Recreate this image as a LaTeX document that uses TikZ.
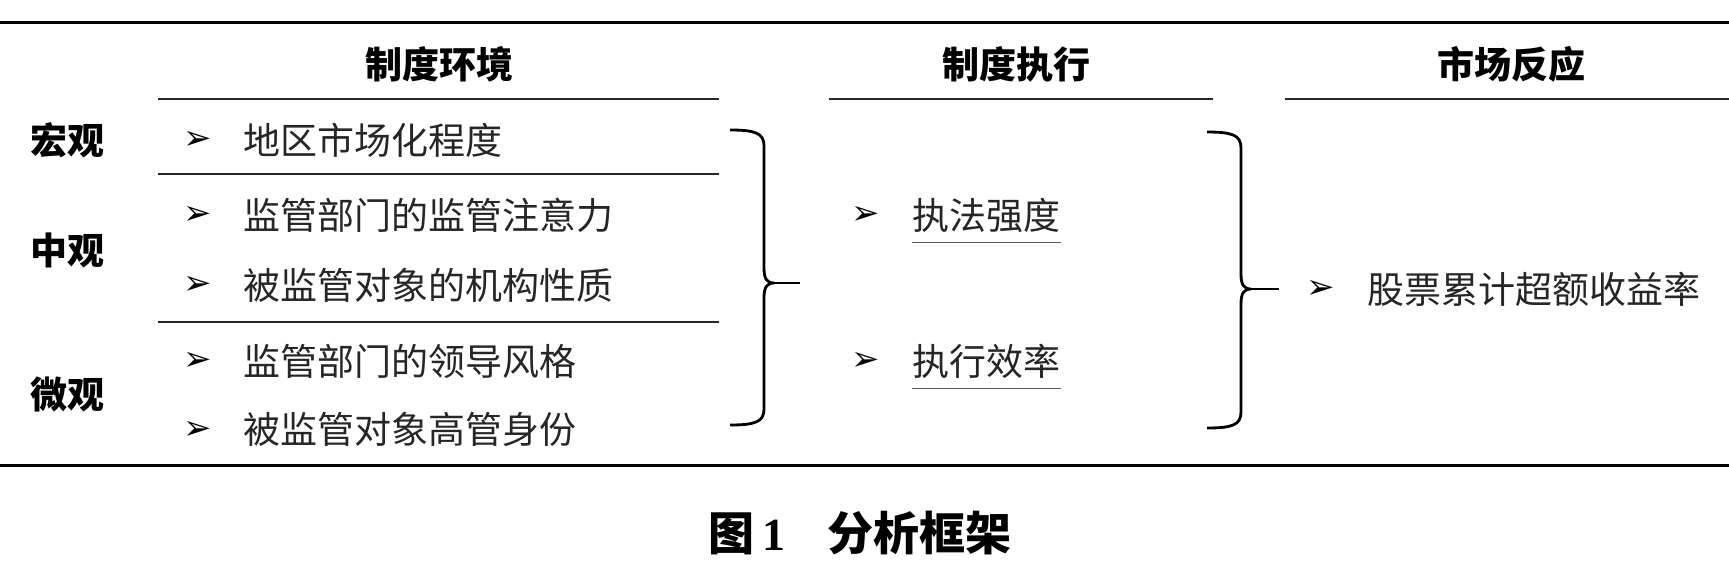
\documentclass[tikz,border=0pt]{standalone}
\usepackage{fontspec}
\setmainfont{Noto Sans CJK SC}
\newfontfamily\arrowfont{DejaVu Sans}
\newfontfamily\numfont{Liberation Serif}

\begin{document}
\begin{tikzpicture}[x=0.5pt, y=-0.5pt, font=\fontsize{18.5}{22}\selectfont,
	rule/.style={line width=1.5pt},
	subrule/.style={line width=1.2pt, black!85},
	head/.style={font=\fontsize{18.5}{22}\selectfont\bfseries},
	item/.style={anchor=west, inner sep=0pt, text=black!85},
	bullet/.style={font=\arrowfont\fontsize{17}{20}\selectfont, inner sep=0pt},
	uline/.style={line width=0.8pt, black!65},
	bigbrace/.style={line width=1.4pt, line join=round}]
	\useasboundingbox (0,0) rectangle (1729,562);
	\draw[rule] (0,22) -- (1729,22);
	\draw[rule] (0,465) -- (1729,465);
	\node[head] (hdenv) at (439,64) {制度环境};
	\node[head] (hdexe) at (1016,64) {制度执行};
	\node[head] (hdmkt) at (1511,64) {市场反应};
	\draw[subrule] (158,99) -- (719,99);
	\draw[subrule] (829,99) -- (1213,99);
	\draw[subrule] (1285,99) -- (1729,99);
	\draw[subrule] (158,174) -- (719,174);
	\draw[subrule] (158,322) -- (719,322);
	\node[head] (lvmacro) at (67,140) {宏观};
	\node[head] (lvmeso) at (67,250) {中观};
	\node[head] (lvmicro) at (67,394) {微观};
	\node[bullet] (bu1) at (198,140) {➢};
	\node[item] (env1) at (243,140) {地区市场化程度};
	\node[bullet] (bu2) at (198,215) {➢};
	\node[item] (env2) at (243,215) {监管部门的监管注意力};
	\node[bullet] (bu3) at (198,285) {➢};
	\node[item] (env3) at (243,285) {被监管对象的机构性质};
	\node[bullet] (bu4) at (198,361) {➢};
	\node[item] (env4) at (243,361) {监管部门的领导风格};
	\node[bullet] (bu5) at (198,430) {➢};
	\node[item] (env5) at (243,430) {被监管对象高管身份};
	\draw[bigbrace] (730,130) .. controls (755,130) and (764,133) .. (764,146) -- (764,268)
	  .. controls (764,279) and (767,283) .. (774,283) coordinate (envcusp)
	  .. controls (767,283) and (764,287) .. (764,298) -- (764,409)
	  .. controls (764,422) and (755,425) .. (730,425);
	\coordinate (envtip) at (800,283);
	\draw[bigbrace] (envcusp) -- (envtip);
	\node[bullet] (bu6) at (866,215) {➢};
	\node[item] (exe1) at (912,215) {执法强度};
	\draw[uline] ([yshift=-5pt]exe1.south west) -- ([yshift=-5pt]exe1.south east);
	\node[bullet] (bu7) at (866,361) {➢};
	\node[item] (exe2) at (912,361) {执行效率};
	\draw[uline] ([yshift=-5pt]exe2.south west) -- ([yshift=-5pt]exe2.south east);
	\draw[bigbrace] (1207,132) .. controls (1232,132) and (1241,135) .. (1241,148) -- (1241,274)
	  .. controls (1241,285) and (1244,289) .. (1251,289) coordinate (execusp)
	  .. controls (1244,289) and (1241,293) .. (1241,304) -- (1241,412)
	  .. controls (1241,425) and (1232,428) .. (1207,428);
	\coordinate (exetip) at (1279,289);
	\draw[bigbrace] (execusp) -- (exetip);
	\node[bullet] (bu8) at (1321,289) {➢};
	\node[item] (mkt1) at (1367,289) {股票累计超额收益率};
	\node[font=\fontsize{23}{27}\selectfont\bfseries, inner sep=0pt] (caption) at (860,533) {图\,{\numfont 1}\hspace{0.9em}分析框架};
\end{tikzpicture}
\end{document}
